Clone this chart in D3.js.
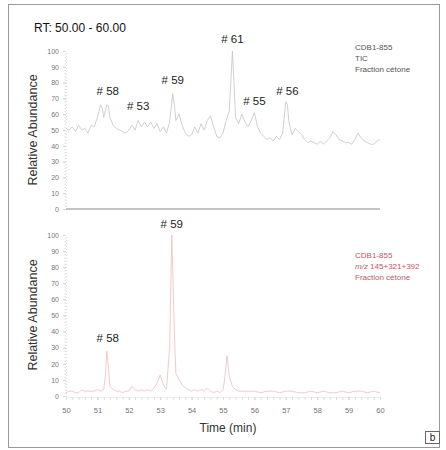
<!DOCTYPE html>
<html><head><meta charset="utf-8">
<script src="https://cdn.jsdelivr.net/npm/d3@7"></script>
<style>body{margin:0;background:#fff;font-family:"Liberation Sans",Arial,sans-serif;}</style>
</head><body><svg id="c" width="446" height="450"></svg>
<script>
// ---- data ----
const ticTime = [50.0,50.1,50.2,50.3,50.4,50.5,50.6,50.7,50.8,50.9,51.0,51.1,51.15,51.2,51.3,51.35,51.4,51.5,51.6,51.7,51.8,51.9,52.0,52.1,52.2,52.3,52.4,52.5,52.6,52.7,52.8,52.9,53.0,53.1,53.2,53.3,53.4,53.45,53.5,53.6,53.7,53.8,53.9,54.0,54.1,54.2,54.3,54.4,54.5,54.6,54.7,54.8,54.9,55.0,55.1,55.2,55.3,55.35,55.4,55.5,55.6,55.7,55.8,55.9,56.0,56.1,56.2,56.3,56.4,56.5,56.6,56.7,56.8,56.9,57.0,57.05,57.1,57.2,57.3,57.4,57.5,57.6,57.7,57.8,57.9,58.0,58.1,58.2,58.3,58.4,58.5,58.6,58.7,58.8,58.9,59.0,59.1,59.2,59.3,59.4,59.5,59.6,59.7,59.8,59.9,60.0];
const ticValue = [51,50,52,49,53,50,51,48,53,52,58,66,64,58,66,65,58,53,51,50,49,48,50,53,50,56,52,55,52,55,51,54,49,52,48,55,73,66,56,60,53,48,46,47,52,48,54,50,56,59,52,46,45,48,56,62,100,80,58,54,60,55,52,56,61,52,48,46,44,45,43,46,44,48,68,66,55,47,51,49,47,44,42,43,42,41,43,41,43,45,49,47,44,43,42,42,41,44,48,45,43,42,41,41,43,44];

const mzTime = [50.0,50.1,50.2,50.3,50.4,50.5,50.6,50.7,50.8,50.9,51.0,51.1,51.2,51.25,51.3,51.35,51.4,51.5,51.6,51.7,51.8,51.9,52.0,52.1,52.2,52.3,52.4,52.5,52.6,52.7,52.8,52.9,53.0,53.1,53.2,53.3,53.37,53.45,53.5,53.6,53.7,53.8,53.9,54.0,54.1,54.2,54.3,54.4,54.5,54.6,54.7,54.8,54.9,55.0,55.05,55.13,55.2,55.3,55.4,55.5,55.6,55.7,55.8,55.9,56.0,56.2,56.4,56.6,56.8,57.0,57.2,57.4,57.6,57.8,58.0,58.2,58.4,58.6,58.8,59.0,59.2,59.4,59.6,59.8,60.0];
const mzValue = [2,3,3,2,2,4,3,3,3,3,4,3,4,12,28,18,6,4,3,3,2,3,3,6,4,3,4,3,4,3,5,8,13,7,4,30,100,40,14,10,7,5,4,3,4,3,4,3,5,3,2,3,2,4,10,25,12,6,4,3,3,3,3,3,3,2,3,3,2,3,3,2,2,3,2,3,2,2,3,2,3,3,2,3,2];

const xTicks = [50,51,52,53,54,55,56,57,58,59,60];
const yTicks = [0,10,20,30,40,50,60,70,80,90,100];
const ticPeaks = [["# 58",51.33,66,95],["# 53",52.3,56,110],["# 59",53.4,73,84],["# 61",55.3,100,43],["# 55",56.0,61,105],["# 56",57.05,68,95]];
const mzPeaks = [["# 58",51.33,28,342],["# 59",53.37,100,228]];
const ticInfo = ["CDB1-855","TIC","Fraction cétone"];
const mzInfo = ["CDB1-855","m/z 145+321+392","Fraction cétone"];

// ---- drawing ----
const svg = d3.select("#c");
svg.append("rect").attr("x",8.5).attr("y",4.5).attr("width",431).attr("height",443)
  .attr("fill","none").attr("stroke","#9a9a9a");

const x = d3.scaleLinear().domain([50,60]).range([66,380]);
const yTop = d3.scaleLinear().domain([0,100]).range([209,51]);
const yBot = d3.scaleLinear().domain([0,100]).range([396,235]);

function yAxis(y){
  const g = svg.append("g").attr("transform","translate(66,0)")
    .call(d3.axisLeft(y).tickValues(yTicks).tickSize(3).tickPadding(4));
  g.select(".domain").attr("stroke","#ddd").attr("stroke-dasharray","1,2");
  g.selectAll(".tick line").attr("stroke","#ccc");
  g.selectAll("text").attr("fill","#777").style("font-size","7px").style("font-family","Liberation Sans, Arial");
  svg.append("g").attr("transform","translate(66,0)")
    .call(d3.axisLeft(y).ticks(50).tickSize(1.5).tickFormat(""))
    .call(s=>{s.select(".domain").remove();s.selectAll("line").attr("stroke","#ddd");});
}
yAxis(yTop); yAxis(yBot);

svg.append("line").attr("x1",x(50)).attr("x2",x(60)).attr("y1",yTop(0)).attr("y2",yTop(0))
  .attr("stroke","#8a8a8a").attr("stroke-width",1.2);

const gx = svg.append("g").attr("transform",`translate(0,${yBot(0)+1})`)
  .call(d3.axisBottom(x).tickValues(xTicks).tickSize(3).tickPadding(8).tickFormat(d=>d));
gx.select(".domain").attr("stroke","#eee");
gx.selectAll(".tick line").attr("stroke","#ccc");
gx.selectAll("text").attr("fill","#777").style("font-size","7.5px").style("font-family","Liberation Sans, Arial");
svg.append("g").attr("transform",`translate(0,${yBot(0)+1})`)
  .call(d3.axisBottom(x).ticks(50).tickSize(3).tickFormat(""))
  .call(s=>{s.select(".domain").remove();s.selectAll("line").attr("stroke","#ddd");});

const ticData = ticTime.map((t,i)=>[t,ticValue[i]]);
const mzData = mzTime.map((t,i)=>[t,mzValue[i]]);
svg.append("path").datum(ticData).attr("fill","none").attr("stroke","#c4c4c4").attr("stroke-width",0.8)
  .attr("d",d3.line().x(d=>x(d[0])).y(d=>yTop(d[1])));
svg.append("path").datum(mzData).attr("fill","none").attr("stroke","#efbcc1").attr("stroke-width",0.8)
  .attr("d",d3.line().x(d=>x(d[0])).y(d=>yBot(d[1])));

function peaks(arr){
  arr.forEach(p=>{
    svg.append("text").attr("x",x(p[1])).attr("y",p[3]).attr("text-anchor","middle")
      .attr("fill","#222").style("font-size","11.5px").text(p[0]);
  });
}
peaks(ticPeaks); peaks(mzPeaks);

ticInfo.forEach((s,i)=>svg.append("text").attr("x",355).attr("y",50+i*11)
  .attr("fill","#555").style("font-size","8px").text(s));
mzInfo.forEach((s,i)=>{
  const t = svg.append("text").attr("x",355).attr("y",258+i*11)
    .attr("fill","#b85a66").style("font-size","8px");
  if(i===1){ t.append("tspan").style("font-style","italic").text("m/z"); t.append("tspan").text(s.slice(3)); }
  else t.text(s);
});

svg.append("text").attr("x",34).attr("y",32).attr("fill","#111").style("font-size","12px").text("RT: 50.00 - 60.00");
svg.append("text").attr("transform","translate(37,130) rotate(-90)").attr("text-anchor","middle")
  .attr("fill","#333").style("font-size","12.5px").text("Relative Abundance");
svg.append("text").attr("transform","translate(37,315) rotate(-90)").attr("text-anchor","middle")
  .attr("fill","#333").style("font-size","12.5px").text("Relative Abundance");
svg.append("text").attr("x",228).attr("y",432).attr("text-anchor","middle").attr("fill","#333")
  .style("font-size","12px").text("Time (min)");

svg.append("rect").attr("x",425.5).attr("y",431.5).attr("width",14).attr("height",12)
  .attr("fill","#fff").attr("stroke","#666");
svg.append("text").attr("x",432.5).attr("y",441).attr("text-anchor","middle").attr("fill","#222")
  .style("font-size","10px").text("b");
</script></body></html>
